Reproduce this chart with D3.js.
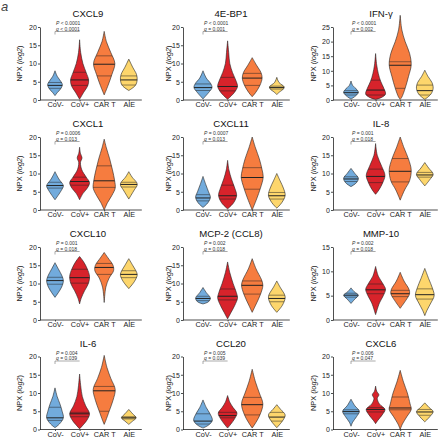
<!DOCTYPE html>
<html><head><meta charset="utf-8">
<script src="https://cdn.jsdelivr.net/npm/d3@7"></script>
<style>body{margin:0;background:#fff} svg{display:block} text{font-family:"Liberation Sans",Arial,sans-serif}</style>
</head><body><svg id="c" width="440" height="440"></svg>
<script>
// ---------- DATA ----------
const groups = ["CoV-", "CoV+", "CAR T", "AIE"];
const titles = ["CXCL9", "4E-BP1", "IFN-γ", "CXCL1", "CXCL11", "IL-8", "CXCL10", "MCP-2 (CCL8)", "MMP-10", "IL-6", "CCL20", "CXCL6"];
const yMax = [20, 20, 25, 20, 20, 20, 20, 20, 15, 20, 20, 20];
const pLabels = ["< 0.0001", "< 0.0001", "< 0.0001", "= 0.0006", "= 0.0007", "= 0.001", "= 0.001", "= 0.002", "= 0.002", "= 0.004", "= 0.005", "= 0.006"];
const qLabels = ["< 0.0001", "= 0.001", "= 0.002", "= 0.013", "= 0.013", "= 0.018", "= 0.018", "= 0.018", "= 0.018", "= 0.039", "= 0.039", "= 0.047"];

// violin profiles: [NPX value, relative half-width] per group (CoV-, CoV+, CAR T, AIE)
const prof_CXCL9 = [
  [[8.0,0],[6.5,0.2],[5,0.55],[4.2,0.67],[3,0.5],[2,0.2],[1.2,0]],
  [[16.5,0],[13,0.1],[10,0.3],[7.5,0.6],[5.5,0.82],[4,0.75],[2,0.35],[0.2,0]],
  [[18.8,0],[16,0.2],[13,0.6],[10,0.97],[7,0.7],[4,0.35],[1.4,0]],
  [[11.2,0],[9,0.35],[7,0.7],[5.5,0.76],[4,0.6],[2.6,0]]];
const quart_CXCL9 = [[3.2,4.0,4.8],[4.0,5.5,7.6],[6.6,9.8,12.1],[4.1,5.5,6.6]];

const prof_4EBP1 = [
  [[8,0],[6,0.3],[4.5,0.7],[3.4,0.82],[2,0.5],[0.3,0]],
  [[16.2,0],[13,0.1],[10,0.2],[7.5,0.45],[5,0.8],[3.7,0.9],[2,0.6],[0.2,0]],
  [[11.6,0],[9.5,0.4],[7.5,0.8],[6,0.9],[4,0.7],[2,0.3],[0.9,0]],
  [[6.2,0],[4.8,0.2],[3.6,0.67],[3,0.6],[2.2,0.25],[1.5,0]]];
const quart_4EBP1 = [[2.6,3.4,4.4],[2.5,3.7,6.2],[4.0,6.0,7.3],[3.0,3.4,3.8]];

const prof_IFNG = [
  [[6.5,0],[5,0.15],[3.5,0.55],[2.6,0.67],[1.5,0.45],[0.3,0]],
  [[15.9,0],[12,0.1],[9,0.25],[6.5,0.45],[4,0.75],[2,0.9],[0.8,0.5],[0.2,0]],
  [[29,0],[24,0.15],[20,0.45],[16,0.85],[12,1.0],[8,0.75],[4,0.45],[1,0.15],[0.2,0]],
  [[10.2,0],[8,0.3],[6,0.65],[4,0.76],[2,0.55],[0.2,0]]];
const quart_IFNG = [[1.7,2.5,3.2],[1.7,3.4,6.8],[4.0,11.9,13.1],[1.7,3.2,5.1]];

const prof_CXCL1 = [
  [[10.5,0],[8.5,0.35],[7,0.72],[6.5,0.76],[5,0.5],[2.8,0]],
  [[17.2,0],[15.5,0.08],[14.3,0.22],[13,0.08],[11,0.2],[9,0.6],[7.5,0.9],[6,0.7],[4.5,0.3],[2.8,0]],
  [[19.4,0],[17,0.2],[14,0.5],[11,0.75],[8,0.95],[6,1.0],[4,0.7],[2,0.3],[0,0]],
  [[10.5,0],[9,0.3],[7.5,0.72],[6.8,0.76],[5.5,0.5],[3,0]]];
const quart_CXCL1 = [[6.0,6.7,7.6],[6.8,7.8,9.0],[6.2,8.0,12.1],[6.3,7.0,7.6]];

const prof_CXCL11 = [
  [[9.2,0],[7,0.25],[5,0.5],[3.5,0.67],[2,0.45],[0.7,0]],
  [[13.6,0],[11,0.12],[8.5,0.35],[6,0.65],[4,0.82],[2,0.55],[0.3,0]],
  [[20,0],[17,0.3],[14,0.65],[11,0.9],[9,1.0],[6,0.75],[3,0.4],[0,0]],
  [[10,0],[8,0.3],[6,0.6],[4,0.76],[2,0.45],[0.5,0]]];
const quart_CXCL11 = [[2.5,3.3,4.2],[3.0,3.9,6.8],[5.7,8.9,11.6],[3.0,3.9,4.8]];

const prof_IL8 = [
  [[11.4,0],[10,0.35],[8.7,0.67],[7.5,0.5],[6.4,0]],
  [[18.2,0],[15,0.15],[12,0.55],[9.5,0.85],[7.5,0.65],[5.5,0.3],[4.3,0]],
  [[20,0],[17,0.35],[14,0.75],[11,1.0],[8,0.85],[5.5,0.4],[2.7,0]],
  [[13,0],[11.5,0.35],[9.8,0.76],[8.3,0.45],[6.6,0]]];
const quart_IL8 = [[7.8,8.5,9.1],[7.5,9.2,11.2],[7.7,10.6,14.1],[9.0,9.6,10.3]];

const prof_CXCL10 = [
  [[15.7,0],[14,0.3],[12,0.65],[10.7,0.76],[9,0.6],[7.5,0.3],[6.2,0]],
  [[17.4,0],[16,0.35],[14,0.7],[12,0.9],[10,0.8],[8,0.45],[6,0.15],[4.4,0]],
  [[18.5,0],[17,0.35],[15,0.8],[13.5,0.85],[11.5,0.45],[9,0.15],[4.8,0]],
  [[16.8,0],[15,0.35],[13,0.72],[12.2,0.76],[10.5,0.5],[8.6,0]]];
const quart_CXCL10 = [[9.8,10.8,11.7],[10.1,11.6,13.9],[12.5,14.4,15.5],[11.6,12.5,13.5]];

const prof_MCP2 = [
  [[8.9,0],[7.5,0.3],[6,0.67],[5,0.5],[4.4,0]],
  [[15.9,0],[13,0.2],[10,0.5],[7.5,0.8],[6,0.9],[4,0.65],[2,0.3],[0.3,0]],
  [[16.8,0],[14,0.35],[11,0.85],[9.5,0.97],[7,0.75],[4,0.3],[2.1,0]],
  [[10.7,0],[9,0.3],[7,0.7],[6,0.76],[4,0.5],[2.1,0]]];
const quart_MCP2 = [[5.3,5.9,6.5],[5.5,6.5,8.5],[7.1,9.5,10.7],[5.0,5.9,6.8]];

const prof_MMP10 = [
  [[6.6,0],[5.8,0.3],[5.1,0.67],[4.3,0.35],[3.4,0]],
  [[11,0],[9,0.25],[7.5,0.65],[6.3,0.9],[5,0.7],[3.5,0.35],[1.1,0]],
  [[9.8,0],[8,0.35],[6.3,0.8],[5.4,0.85],[4,0.5],[2.4,0]],
  [[10.6,0],[8.5,0.35],[6.5,0.7],[5,0.85],[3.5,0.55],[2,0.2],[0.9,0]]];
const quart_MMP10 = [[4.7,5.1,5.5],[5.4,6.2,7.4],[4.8,5.4,6.1],[4.3,5.2,6.4]];

const prof_IL6 = [
  [[11.4,0],[9,0.2],[7,0.45],[5,0.65],[3.2,0.76],[1.5,0.4],[0.5,0]],
  [[15.2,0],[12,0.1],[9,0.25],[6.5,0.55],[4.3,0.9],[2.5,0.65],[0.2,0]],
  [[20.3,0],[17,0.25],[14,0.6],[11,1.0],[8,0.8],[5,0.45],[2.5,0.15],[1.4,0]],
  [[5.5,0],[4.3,0.35],[3.2,0.67],[2.3,0.35],[1.4,0]]];
const quart_IL6 = [[2.5,3.2,6.1],[3.5,4.3,4.7],[5.0,10.6,11.8],[2.9,3.2,3.5]];

const prof_CCL20 = [
  [[8.1,0],[6,0.3],[4.5,0.6],[2.5,0.85],[1.2,0.5],[0.4,0]],
  [[9.3,0],[7.5,0.2],[6,0.5],[4.5,0.85],[3,0.65],[1.5,0.3],[0.4,0]],
  [[16.5,0],[13,0.3],[10,0.65],[7,0.97],[4,0.7],[2,0.35],[0.4,0]],
  [[6.8,0],[5.5,0.35],[4,0.76],[2.5,0.55],[0.5,0]]];
const quart_CCL20 = [[1.5,2.3,4.3],[3.2,3.8,4.7],[4.0,6.8,8.8],[2.3,3.4,4.7]];

const prof_CXCL6 = [
  [[8.3,0],[6.5,0.35],[5,0.76],[3.5,0.5],[2,0.15],[0.9,0]],
  [[11.9,0],[10.5,0.1],[9.5,0.3],[8.5,0.15],[7,0.35],[5.5,0.85],[4,0.6],[2.5,0.2],[1.6,0]],
  [[16.2,0],[13,0.3],[10,0.65],[7,0.9],[5.5,1.0],[3.5,0.6],[1.5,0.2],[0,0]],
  [[7.3,0],[6,0.4],[4.9,0.76],[3.5,0.45],[2.1,0]]];
const quart_CXCL6 = [[4.3,4.9,5.4],[4.8,5.5,6.0],[5.4,5.9,8.9],[3.9,4.8,5.5]];

const profiles = [prof_CXCL9, prof_4EBP1, prof_IFNG, prof_CXCL1, prof_CXCL11, prof_IL8,
                  prof_CXCL10, prof_MCP2, prof_MMP10, prof_IL6, prof_CCL20, prof_CXCL6];
const quartiles = [quart_CXCL9, quart_4EBP1, quart_IFNG, quart_CXCL1, quart_CXCL11, quart_IL8,
                   quart_CXCL10, quart_MCP2, quart_MMP10, quart_IL6, quart_CCL20, quart_CXCL6];

// ---------- STYLE / LAYOUT ----------
const colors = ["#72abdc", "#d7232b", "#f67c3f", "#fdd66c"];
const colAxisX = [40, 183, 333];
const colFirst = [55, 203, 351];
const colLabelX = [22, 171, 316];
const step = 24.6;
const rowBase = [100, 210, 320, 429.5];
const plotH = 73;
const ink = "#222";
const font = "Liberation Sans, Arial, sans-serif";

const svg = d3.select("#c");
svg.append("text").attr("x", 1).attr("y", 11).attr("font-size", 13).attr("font-style", "italic")
  .attr("fill", "#444").text("a");

const wScale = d3.scaleLinear().domain([0, 1]).range([0, 11]);
let clipId = 0;

titles.forEach((title, i) => {
  const c = i % 3, r = Math.floor(i / 3);
  const g = svg.append("g");
  const x = d3.scalePoint().domain(groups).range([colFirst[c], colFirst[c] + 3 * step]);
  const y = d3.scaleLinear().domain([0, yMax[i]]).range([rowBase[r], rowBase[r] - plotH]);
  const yTop = rowBase[r] - plotH;

  // title
  g.append("text").attr("x", colAxisX[c] + 48).attr("y", yTop - 10).attr("text-anchor", "middle")
    .attr("font-size", 9.6).attr("fill", "#111").text(title);

  // y axis
  const ya = g.append("g").attr("transform", `translate(${colAxisX[c]},0)`)
    .call(d3.axisLeft(y).tickValues(d3.range(0, yMax[i] + 0.1, 5)).tickSize(2).tickPadding(1.2).tickSizeOuter(0));
  ya.select(".domain").attr("stroke", ink).attr("stroke-width", 0.8);
  ya.selectAll(".tick line").attr("stroke", ink).attr("stroke-width", 0.8);
  ya.selectAll(".tick text").attr("font-size", 7).attr("fill", "#222").attr("font-family", font);

  // x axis
  const xEnd = colFirst[c] + 3 * step + 13;
  const xa = g.append("g").attr("transform", `translate(0,${rowBase[r]})`)
    .call(d3.axisBottom(x).tickSize(1.5).tickPadding(0.8).tickSizeOuter(0));
  xa.select(".domain").remove();
  xa.append("line").attr("x1", colAxisX[c]).attr("x2", xEnd).attr("stroke", ink).attr("stroke-width", 0.8);
  xa.selectAll(".tick line").attr("stroke", ink).attr("stroke-width", 0.8);
  xa.selectAll(".tick text").attr("font-size", 7.3).attr("fill", "#222").attr("font-family", font);

  // y label
  const yl = g.append("text").attr("transform", `translate(${colLabelX[c]},${rowBase[r] - plotH / 2}) rotate(-90)`)
    .attr("text-anchor", "middle").attr("font-size", 7.4).attr("fill", "#222");
  yl.append("tspan").text("NPX (");
  yl.append("tspan").attr("font-style", "italic").text("log2");
  yl.append("tspan").text(")");

  // violins
  groups.forEach((grp, k) => {
    const cx = x(grp);
    const area = d3.area()
      .y(d => y(d[0]))
      .x0(d => cx - wScale(d[1]))
      .x1(d => cx + wScale(d[1]))
      .curve(d3.curveCatmullRom.alpha(0.5));
    const id = "vclip" + (clipId++);
    const dPath = area(profiles[i][k]);
    svg.append("clipPath").attr("id", id).append("path").attr("d", dPath);
    g.append("path").attr("d", dPath).attr("fill", colors[k]).attr("stroke", ink).attr("stroke-width", 0.6);
    const q = quartiles[i][k];
    q.forEach((v, qi) => {
      g.append("line").attr("clip-path", `url(#${id})`)
        .attr("x1", cx - 14).attr("x2", cx + 14).attr("y1", y(v)).attr("y2", y(v))
        .attr("stroke", ink).attr("stroke-width", qi === 1 ? 1.0 : 0.5);
    });
  });

  // significance bracket
  const bx0 = x(groups[0]), bx1 = x(groups[1]);
  const by = yTop + 4.5;
  g.append("path").attr("d", `M${bx0},${by + 3}V${by}H${bx1}`).attr("fill", "none")
    .attr("stroke", "#555").attr("stroke-width", 0.5);
  const pt = g.append("text").attr("x", bx0 + 1).attr("y", yTop - 2).attr("font-size", 5).attr("fill", "#333");
  pt.append("tspan").attr("font-style", "italic").text("P");
  pt.append("tspan").text(" " + pLabels[i]);
  const qt = g.append("text").attr("x", bx0 + 1).attr("y", yTop + 3.8).attr("font-size", 5).attr("fill", "#333");
  qt.append("tspan").attr("font-style", "italic").text("q");
  qt.append("tspan").text(" " + qLabels[i]);
});
</script>
</body></html>
